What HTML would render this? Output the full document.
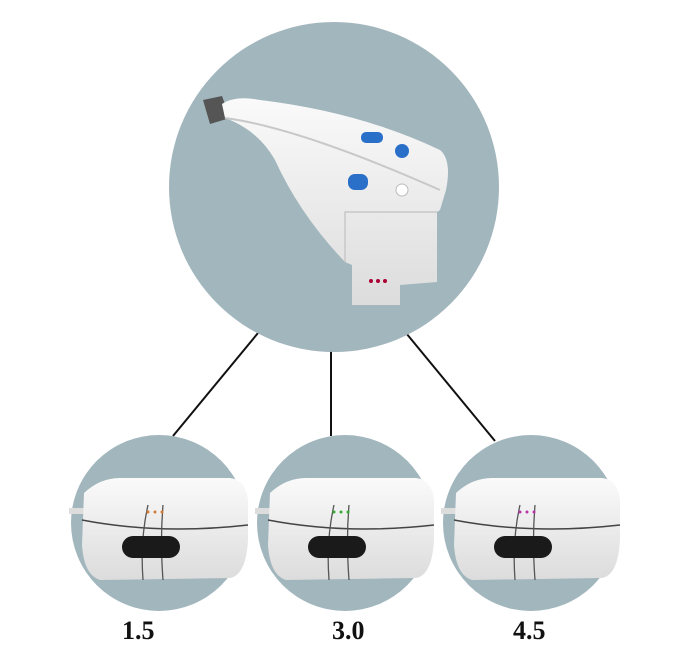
<!DOCTYPE html>
<html><head><style>
html,body{margin:0;padding:0;background:#fff;width:680px;height:652px;overflow:hidden}
.l{position:absolute;font-family:"Liberation Serif",serif;font-weight:bold;font-size:26px;color:#111}
</style></head><body>
<svg width="680" height="652" style="position:absolute;left:0;top:0">
<defs>
<linearGradient id="w" x1="0" y1="0" x2="0" y2="1"><stop offset="0" stop-color="#fafafa"/><stop offset="1" stop-color="#dcdcdc"/></linearGradient>
</defs>
<line x1="258" y1="333" x2="173" y2="436" stroke="#111" stroke-width="2"/>
<line x1="331" y1="350" x2="331" y2="436" stroke="#111" stroke-width="2"/>
<line x1="406" y1="333" x2="495" y2="441" stroke="#111" stroke-width="2"/>
<circle cx="334" cy="187" r="165" fill="#a2b6bd"/>
<circle cx="159" cy="523" r="88" fill="#a2b6bd"/>
<circle cx="345" cy="523" r="88" fill="#a2b6bd"/>
<circle cx="531" cy="523" r="88" fill="#a2b6bd"/>
<path d="M203 100 L222 96 L230 118 L210 124 Z" fill="#555"/>
<path d="M222 104 Q235 95 260 100 Q360 112 440 150 Q452 160 446 190 L440 210 L437 212 L437 282 L400 285 L400 305 L352 305 L352 265 L345 262 Q300 215 275 160 Q258 130 225 118 Z" fill="url(#w)"/>
<path d="M225 118 Q300 128 440 190" stroke="#c8c8c8" stroke-width="2" fill="none"/>
<path d="M345 262 L345 212 L437 212" stroke="#c8c8c8" stroke-width="1.5" fill="none"/>
<rect x="361" y="132" width="22" height="11" rx="5" fill="#2a6fc8"/>
<circle cx="402" cy="151" r="7" fill="#2a6fc8"/>
<rect x="348" y="174" width="20" height="16" rx="7" fill="#2a6fc8"/>
<circle cx="402" cy="190" r="6" fill="#fff" stroke="#bbb"/>
<circle cx="371" cy="281" r="2" fill="#a03"/><circle cx="378" cy="281" r="2" fill="#a03"/><circle cx="385" cy="281" r="2" fill="#a03"/>
<g id="c">
<rect x="69" y="508" width="16" height="6" fill="#ddd"/>
<path d="M84 493 Q100 478 120 478 L230 478 Q246 480 248 500 L248 540 Q246 575 230 578 L100 580 Q84 575 82 545 Z" fill="url(#w)"/>
<path d="M82 520 Q160 535 248 525" stroke="#444" stroke-width="1.5" fill="none"/>
<path d="M148 505 Q140 540 143 580 M163 505 Q160 540 163 580" stroke="#555" stroke-width="1.3" fill="none"/>
<rect x="122" y="536" width="58" height="22" rx="11" fill="#1a1a1a"/>
</g>
<circle cx="148" cy="512" r="1.5" fill="#d97a30"/><circle cx="155" cy="512" r="1.5" fill="#d97a30"/><circle cx="162" cy="512" r="1.5" fill="#d97a30"/>
<use href="#c" x="186"/>
<use href="#c" x="372"/>
<circle cx="334" cy="512" r="1.5" fill="#3a3"/><circle cx="341" cy="512" r="1.5" fill="#3a3"/><circle cx="348" cy="512" r="1.5" fill="#3a3"/>
<circle cx="520" cy="512" r="1.5" fill="#b3a"/><circle cx="527" cy="512" r="1.5" fill="#b3a"/><circle cx="534" cy="512" r="1.5" fill="#b3a"/>
</svg>
<div class="l" style="left:122px;top:616px">1.5</div>
<div class="l" style="left:332px;top:616px">3.0</div>
<div class="l" style="left:513px;top:616px">4.5</div>
</body></html>
